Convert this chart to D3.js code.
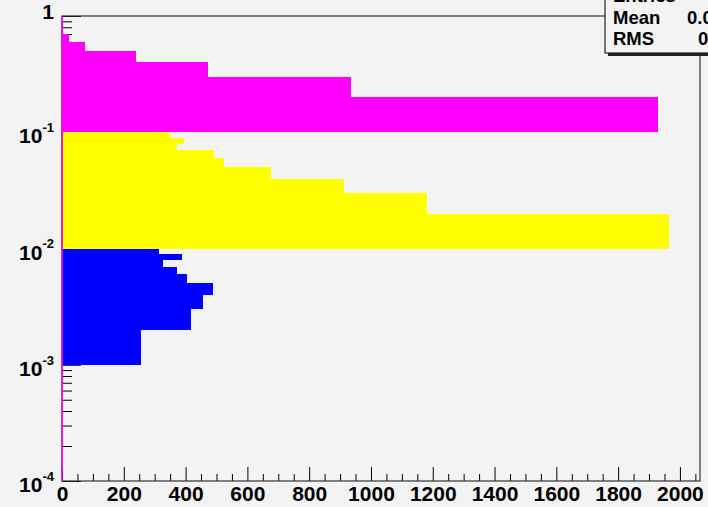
<!DOCTYPE html>
<html>
<head>
<meta charset="utf-8">
<script src="https://cdn.jsdelivr.net/npm/d3@7"></script>
<style>
  body { margin: 0; background: #f3f3f3; }
  text { font-family: "Liberation Sans", Arial, sans-serif; font-weight: bold; }
</style>
</head>
<body>
<div id="my_dataviz"></div>
<script>
// bin edges (log y axis, linear bins inside each decade) and bar lengths
var magentaEdges = [0.1, 0.2, 0.3, 0.4, 0.5, 0.6, 0.7, 0.8, 0.9, 1.0];
var magentaValues = [1929, 934, 471, 241, 74, 24, 4, 2, 1];

var yellowEdges = [0.01, 0.02, 0.03, 0.04, 0.05, 0.06, 0.07, 0.08, 0.09, 0.1];
var yellowValues = [1966, 1183, 913, 678, 524, 492, 372, 395, 350];

var blueEdges = [0.001, 0.002, 0.003, 0.004, 0.005, 0.006, 0.007, 0.008, 0.009, 0.01];
var blueValues = [256, 416, 456, 489, 403, 373, 328, 389, 314];

var xTicks = [0, 200, 400, 600, 800, 1000, 1200, 1400, 1600, 1800, 2000];
var yTicks = [1e-4, 1e-3, 1e-2, 1e-1, 1];
var yTickExp = ["-4", "-3", "-2", "-1", ""];

var statsLabels = ["Entries", "Mean", "RMS"];
var statsValues = ["", "0.0", "0.0"];

// dimensions of the graph
var margin = {top: 16, right: 8, bottom: 26, left: 62},
    width = 708 - margin.left - margin.right,
    height = 507 - margin.top - margin.bottom;

var svgRoot = d3.select("#my_dataviz")
  .append("svg")
    .attr("width", 708)
    .attr("height", 507);

svgRoot.append("rect")
  .attr("width", 708)
  .attr("height", 507)
  .attr("fill", "#f3f3f3");

var svg = svgRoot.append("g")
  .attr("transform", "translate(" + margin.left + "," + margin.top + ")");

var x = d3.scaleLinear()
  .domain([0, 2065])
  .range([0, width]);

var y = d3.scaleLog()
  .domain([1e-4, 1])
  .range([height, 0]);

// X axis, ticks pointing inside
var minorX = d3.range(0, 2065, 50).filter(function(v) { return v % 200 != 0; });
svg.append("g")
  .attr("transform", "translate(0," + height + ")")
  .call(d3.axisBottom(x).tickValues(minorX).tickSize(-7).tickFormat(""))
  .call(function(g) { g.select(".domain").remove(); });

svg.append("g")
  .attr("transform", "translate(0," + height + ")")
  .call(d3.axisBottom(x).tickValues(xTicks).tickSize(-14).tickPadding(5)
    .tickFormat(d3.format("d")))
  .call(function(g) { g.select(".domain").remove(); })
  .selectAll("text")
    .attr("font-size", 21)
    .attr("fill", "#000");

// Y axis, log
var minorY = y.ticks().filter(function(v) { return yTicks.indexOf(v) < 0; });
svg.append("g")
  .call(d3.axisLeft(y).tickValues(minorY).tickSize(-10).tickFormat(""))
  .call(function(g) { g.select(".domain").remove(); });

var yAxis = svg.append("g")
  .call(d3.axisLeft(y).tickValues(yTicks).tickSize(-19).tickPadding(8).tickFormat(""))
  .call(function(g) { g.select(".domain").remove(); });

yAxis.selectAll(".tick text")
  .attr("font-size", 21)
  .attr("fill", "#000")
  .each(function(d, i) {
    var t = d3.select(this);
    if (yTickExp[i] == "") {
      t.attr("dy", "0.1em").text("1");
      return;
    }
    t.attr("dy", "0.5em");
    t.append("tspan").text("10");
    t.append("tspan")
      .attr("font-size", 13)
      .attr("dy", "-0.85em")
      .text(yTickExp[i]);
  });

// Bars
function drawHist(edges, values, color) {
  svg.selectAll(null)
    .data(values)
    .enter()
    .append("rect")
      .attr("x", x(0))
      .attr("y", function(d, i) { return y(edges[i + 1]); })
      .attr("width", function(d) { return x(d) - x(0); })
      .attr("height", function(d, i) { return y(edges[i]) - y(edges[i + 1]); })
      .attr("fill", color)
      .attr("shape-rendering", "crispEdges");
}
drawHist(magentaEdges, magentaValues, "#ff00ff");
drawHist(yellowEdges, yellowValues, "#ffff00");
drawHist(blueEdges, blueValues, "#0000ff");

// frame
svg.append("rect")
  .attr("width", width)
  .attr("height", height)
  .attr("fill", "none")
  .attr("stroke", "#333")
  .attr("stroke-width", 1.2);

// histogram outline along zero
svg.append("line")
  .attr("x1", x(0)).attr("x2", x(0))
  .attr("y1", 0).attr("y2", height)
  .attr("stroke", "#ff00ff")
  .attr("stroke-width", 1.5);

// stats box, top right (cut by the canvas)
svgRoot.append("rect")
  .attr("x", 608).attr("y", -20)
  .attr("width", 200).attr("height", 76)
  .attr("fill", "#222");
svgRoot.append("rect")
  .attr("x", 605).attr("y", -20)
  .attr("width", 200).attr("height", 73)
  .attr("fill", "#f3f3f3")
  .attr("stroke", "#222")
  .attr("stroke-width", 1.2);

svgRoot.selectAll(".statlabel")
  .data(statsLabels)
  .enter()
  .append("text")
    .attr("x", 613)
    .attr("y", function(d, i) { return 2 + i * 21.5; })
    .attr("font-size", 18.5)
    .attr("fill", "#000")
    .text(function(d) { return d; });

svgRoot.selectAll(".statvalue")
  .data(statsValues)
  .enter()
  .append("text")
    .attr("x", function(d, i) { return i == 2 ? 698 : 687; })
    .attr("y", function(d, i) { return 2 + i * 21.5; })
    .attr("font-size", 18.5)
    .attr("fill", "#000")
    .text(function(d) { return d; });
</script>
</body>
</html>
